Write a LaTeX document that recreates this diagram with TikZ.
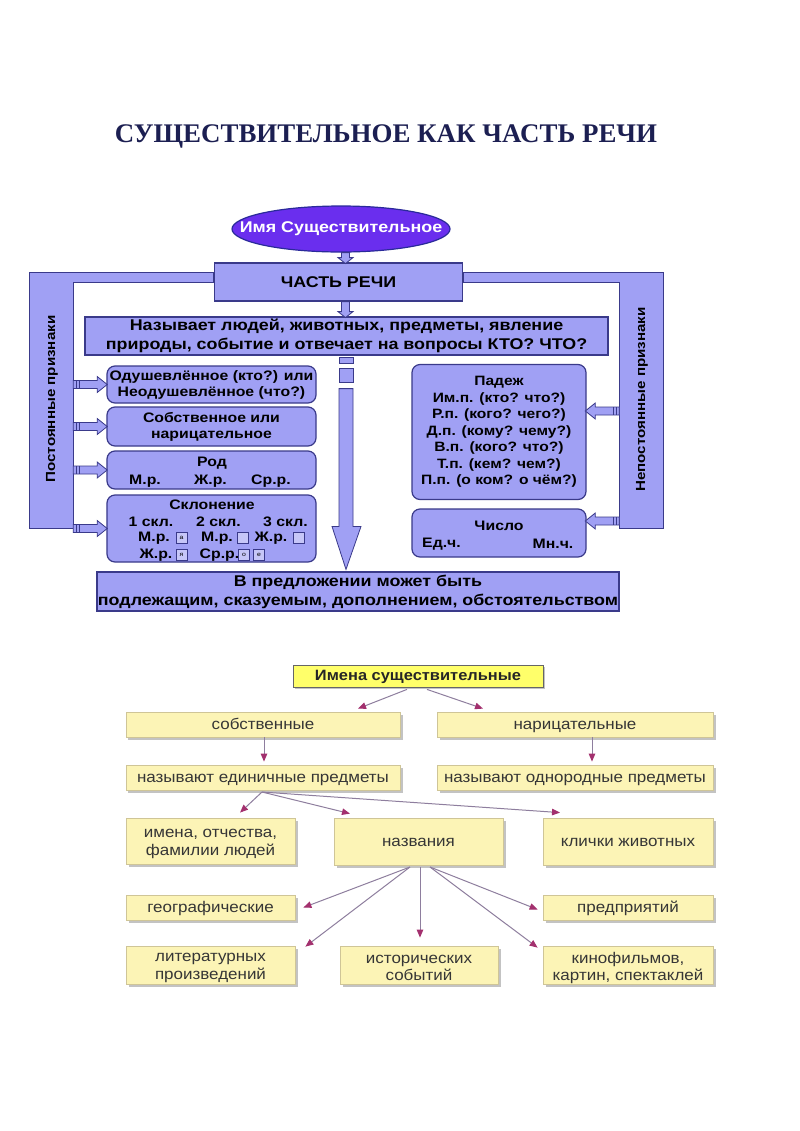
\documentclass[tikz,border=0pt]{standalone}
\usepackage{fontspec}
\setmainfont{Liberation Sans}[FakeStretch=1.15]
\newfontfamily\botfont{Liberation Sans}[FakeStretch=1.1]
\newfontfamily\titlefont{Liberation Serif}
\usetikzlibrary{shapes.geometric,calc,arrows.meta,shadows}
\definecolor{lav}{HTML}{A0A0F4}
\definecolor{navy}{HTML}{3A3A8A}
\definecolor{ellc}{HTML}{6A2EEE}
\definecolor{elle}{HTML}{2A2A9A}
\definecolor{ttl}{HTML}{1C1F52}
\definecolor{ybright}{HTML}{FFFF6A}
\definecolor{ypale}{HTML}{FCF4B6}
\definecolor{yedge}{HTML}{CFC597}
\definecolor{shad}{HTML}{BDBDBD}
\definecolor{lnc}{HTML}{8E7E9E}
\definecolor{headc}{HTML}{A3306E}
\definecolor{btxt}{HTML}{363636}
\newcommand{\rblk}[1]{%
  \draw[blk] (#1) ++(0,-4) -- ++(24,0) -- ++(0,-4) -- ++(10,8) -- ++(-10,8) -- ++(0,-4) -- ++(-24,0) -- cycle;
  \draw[navy,line width=0.8bp] (#1) ++(3,-4) -- ++(0,8) (#1) ++(6,-4) -- ++(0,8);}
\newcommand{\lblk}[1]{%
  \draw[blk] (#1) ++(0,-4) -- ++(-24,0) -- ++(0,-4) -- ++(-10,8) -- ++(10,8) -- ++(0,-4) -- ++(24,0) -- cycle;
  \draw[navy,line width=0.8bp] (#1) ++(-3,-4) -- ++(0,8) (#1) ++(-6,-4) -- ++(0,8);}
\newcommand{\dblk}[2]{%
  \draw[blk] (#1) ++(-4,0) -- ++(8,0) -- ++(0,#2-6) -- ++(3.5,0) -- ++(-7.5,6) -- ++(-7.5,-6) -- ++(3.5,0) -- cycle;}
\begin{document}
\begin{tikzpicture}[x=1bp,y=-1bp,
  tf/.style={font=\bfseries\fontsize{15.6}{19}\selectfont},
  sf/.style={font=\bfseries\fontsize{13.8}{16}\selectfont},
  vf/.style={font=\bfseries\fontsize{13.2}{16}\selectfont},
  pf/.style={font=\bfseries\fontsize{13.6}{16.5}\selectfont},
  vbox/.style={draw=navy, line width=1.2bp, fill=lav, align=center, inner sep=0pt},
  rbox/.style={vbox, rounded corners=8bp},
  panel/.style={draw=navy, line width=1.2bp, fill=lav},
  blk/.style={draw=navy, line width=0.8bp, fill=lav},
  sq/.style={draw=navy, line width=0.7bp, fill=lav!60!white, minimum size=11bp, inner sep=0pt, font=\fontsize{6}{6}\selectfont},
  ybox/.style={draw=yedge, line width=0.8bp, fill=ypale, align=center, inner sep=0pt, text=btxt,
     font=\botfont\fontsize{15.5}{18}\selectfont, text height=10bp, text depth=0bp,
     drop shadow={shadow xshift=2.5bp, shadow yshift=-2.5bp, fill=shad, opacity=0.9}},
  btext/.style={align=center, inner sep=0pt, text=btxt, font=\botfont\fontsize{15.5}{17.5}\selectfont},
  conn/.style={draw=lnc, line width=1bp, -{Triangle[length=8bp,width=6.5bp,fill=headc,color=headc]}}
]
\useasboundingbox (0,0) rectangle (800,1131);
\fill[white] (0,0) rectangle (800,1131);

% ---------- title
\node[font=\titlefont\bfseries\fontsize{27}{30}\selectfont, text=ttl, anchor=base, inner sep=0] (title) at (386,142) {СУЩЕСТВИТЕЛЬНОЕ КАК ЧАСТЬ РЕЧИ};

% ---------- upper diagram
\node[ellipse, draw=elle, line width=1.2bp, fill=ellc, minimum width=218bp, minimum height=46bp, inner sep=0] (ell) at (341,229) {};
\node[text=white, tf, inner sep=0] (elltxt) at (ell.center) {Имя Существительное};
\node[vbox, tf, minimum width=248bp, minimum height=38bp] (chast) at (338.5,282) {ЧАСТЬ РЕЧИ};

\node[minimum width=43bp, minimum height=255bp, inner sep=0] (lpanel) at (51.5,400.5) {};
\node[minimum width=44bp, minimum height=255bp, inner sep=0] (rpanel) at (641.5,400.5) {};
\draw[panel] (lpanel.north west) -- (lpanel.north west -| chast.west) -- ++(0,10) -- ($(lpanel.north east)+(0,10)$) -- (lpanel.south east) -- (lpanel.south west) -- cycle;
\draw[panel] (rpanel.north east) -- (rpanel.north east -| chast.east) -- ++(0,10) -- ($(rpanel.north west)+(0,10)$) -- (rpanel.south west) -- (rpanel.south east) -- cycle;
\node[vf, rotate=90] (ltext) at (52,399) {Постоянные признаки};
\node[vf, rotate=90] (rtext) at (642,399.5) {Непостоянные признаки};

\node[vbox, tf, minimum width=523bp, minimum height=38bp] (nazyv) at (346.5,336) {Называет людей, животных, предметы, явление\\природы, событие и отвечает на вопросы КТО? ЧТО?};

\node[rbox, sf, minimum width=209bp, minimum height=37bp] (b1) at (211.5,384.5) {Одушевлённое (кто?) или\\Неодушевлённое (что?)};
\node[rbox, sf, minimum width=209bp, minimum height=39bp] (b2) at (211.5,426.5) {Собственное или\\нарицательное};
\node[rbox, minimum width=209bp, minimum height=38bp] (b3) at (211.5,470) {};
\node[rbox, minimum width=209bp, minimum height=67bp] (b4) at (211.5,528.5) {};

\node[sf] (rod) at (212,463) {Род};
\node[sf] (rod1) at (145,481) {М.р.};
\node[sf] (rod2) at (210.5,481) {Ж.р.};
\node[sf] (rod3) at (271,481) {Ср.р.};

\node[sf] (skl) at (212,505) {Склонение};
\node[sf] (s1) at (151,522) {1 скл.};
\node[sf] (s2) at (218.5,522) {2 скл.};
\node[sf] (s3) at (285.5,522) {3 скл.};
\node[sf] (m1) at (154,538) {М.р.};
\node[sq] (qa) at (181.5,538) {а};
\node[sf] (m2) at (217,538) {М.р.};
\node[sq] (qb) at (243,538) {};
\node[sf] (m3) at (271,538) {Ж.р.};
\node[sq] (qc) at (299,538) {};
\node[sf] (m4) at (156,555) {Ж.р.};
\node[sq] (qd) at (181.5,555) {я};
\node[sf] (m5) at (219.5,555) {Ср.р.};
\node[sq] (qe) at (244,555) {о};
\node[sq] (qf) at (259,555) {е};

\node[rbox, pf, minimum width=174bp, minimum height=135bp] (padezh) at (499,432) {Падеж\\Им.п. (кто? что?)\\Р.п. (кого? чего?)\\Д.п. (кому? чему?)\\В.п. (кого? что?)\\Т.п. (кем? чем?)\\П.п. (о ком? о чём?)};
\node[rbox, minimum width=174bp, minimum height=48bp] (chislo) at (499,533) {};
\node[sf] (ch) at (499,526) {Число};
\node[sf] (ch1) at (441.5,544) {Ед.ч.};
\node[sf] (ch2) at (553,544) {Мн.ч.};

\node[vbox, tf, minimum width=522bp, minimum height=39bp] (predl) at (358,591.5) {В предложении может быть\\подлежащим, сказуемым, дополнением, обстоятельством};

% small down arrows
\dblk{345.5,0 |- ell.south}{11}
\dblk{345.5,0 |- chast.south}{16}
% central column
\coordinate (ctop) at (346,0 |- nazyv.south);
\coordinate (cbot) at (346,0 |- predl.north);
\draw[blk] ($(ctop)+(-7,2)$) rectangle ($(ctop)+(7,8)$);
\draw[blk] ($(ctop)+(-7,13)$) rectangle ($(ctop)+(7,27)$);
\draw[blk] ($(ctop)+(-7,33)$) -- ($(ctop)+(7,33)$) -- ($(cbot)+(7,-45)$) -- ($(cbot)+(15,-45)$) -- ($(cbot)+(0,-2)$) -- ($(cbot)+(-14,-45)$) -- ($(cbot)+(-7,-45)$) -- cycle;

% side arrows
\rblk{lpanel.east |- b1.west}
\rblk{lpanel.east |- b2.west}
\rblk{lpanel.east |- b3.west}
\rblk{lpanel.east |- b4.west}
\lblk{$(rpanel.west |- padezh.east)+(0,-21)$}
\lblk{$(rpanel.west |- chislo.east)+(0,-12)$}

% ---------- lower diagram
\node[draw=black!60, line width=0.8bp, fill=ybright, inner sep=0, minimum width=250bp, minimum height=22bp,
  font=\botfont\bfseries\fontsize{15}{17}\selectfont, text=black!85, text height=10.5bp, text depth=1.5bp,
  drop shadow={shadow xshift=2bp, shadow yshift=-2bp, fill=shad, opacity=0.9}] (imena) at (418,676) {Имена существительные};
\node[ybox, minimum width=274bp, minimum height=25bp] (sobst) at (263,724.5) {собственные};
\node[ybox, minimum width=276bp, minimum height=25bp] (naric) at (575,724.5) {нарицательные};
\node[ybox, minimum width=274bp, minimum height=25bp] (ed) at (263,777.5) {называют единичные предметы};
\node[ybox, minimum width=276bp, minimum height=25bp] (odn) at (575,777.5) {называют однородные предметы};
\node[ybox, minimum width=169bp, minimum height=46bp] (imfam) at (210.5,841) {};
\node[btext] (imfamt) at ($(imfam.center)+(0,3)$) {имена, отчества,\\фамилии людей};
\node[ybox, minimum width=169bp, minimum height=47bp] (nazv) at (418.5,841.5) {названия};
\node[ybox, minimum width=170bp, minimum height=47bp] (klich) at (628,841.5) {клички животных};
\node[ybox, minimum width=169bp, minimum height=25bp] (geo) at (210.5,907.5) {географические};
\node[ybox, minimum width=170bp, minimum height=25bp] (pred) at (628,907.5) {предприятий};
\node[ybox, minimum width=169bp, minimum height=38bp] (lit) at (210.5,965) {};
\node[btext] (litt) at ($(lit.center)+(0,3)$) {литературных\\произведений};
\node[ybox, minimum width=158bp, minimum height=38bp] (ist) at (419,965) {};
\node[btext] (istt) at ($(ist.center)+(0,3)$) {исторических\\событий};
\node[ybox, minimum width=170bp, minimum height=38bp] (kino) at (628,965) {};
\node[btext] (kinot) at ($(kino.center)+(0,3)$) {кинофильмов,\\картин, спектаклей};

\draw[conn] ($(imena.south)+(-11,2)$) -- (358,0 |- {$(sobst.north)+(0,-3)$});
\draw[conn] ($(imena.south)+(9,2)$) -- (483,0 |- {$(naric.north)+(0,-3)$});
\draw[conn] (264,0 |- sobst.south) -- (264,0 |- {$(ed.north)+(0,-3)$});
\draw[conn] (592,0 |- naric.south) -- (592,0 |- {$(odn.north)+(0,-3)$});
\coordinate (eds) at (262,792);
\draw[conn] (eds) -- (240,0 |- {$(imfam.north)+(0,-5)$});
\draw[conn] (eds) -- (350,0 |- {$(nazv.north)+(0,-4)$});
\draw[conn] (eds) -- (560,0 |- {$(klich.north)+(0,-5)$});
\coordinate (nzl) at (410,867);
\coordinate (nzm) at (420,867);
\coordinate (nzr) at (430,867);
\draw[conn] (nzl) -- ($(geo.east)+(8,0)$);
\draw[conn] (nzl) -- ($(lit.north east)+(10,1)$);
\draw[conn] (nzm) -- ($(ist.north)+(1,-8)$);
\draw[conn] (nzr) -- ($(pred.west)+(-5,2)$);
\draw[conn] (nzr) -- ($(kino.north west)+(-5,2)$);
\end{tikzpicture}
\end{document}
